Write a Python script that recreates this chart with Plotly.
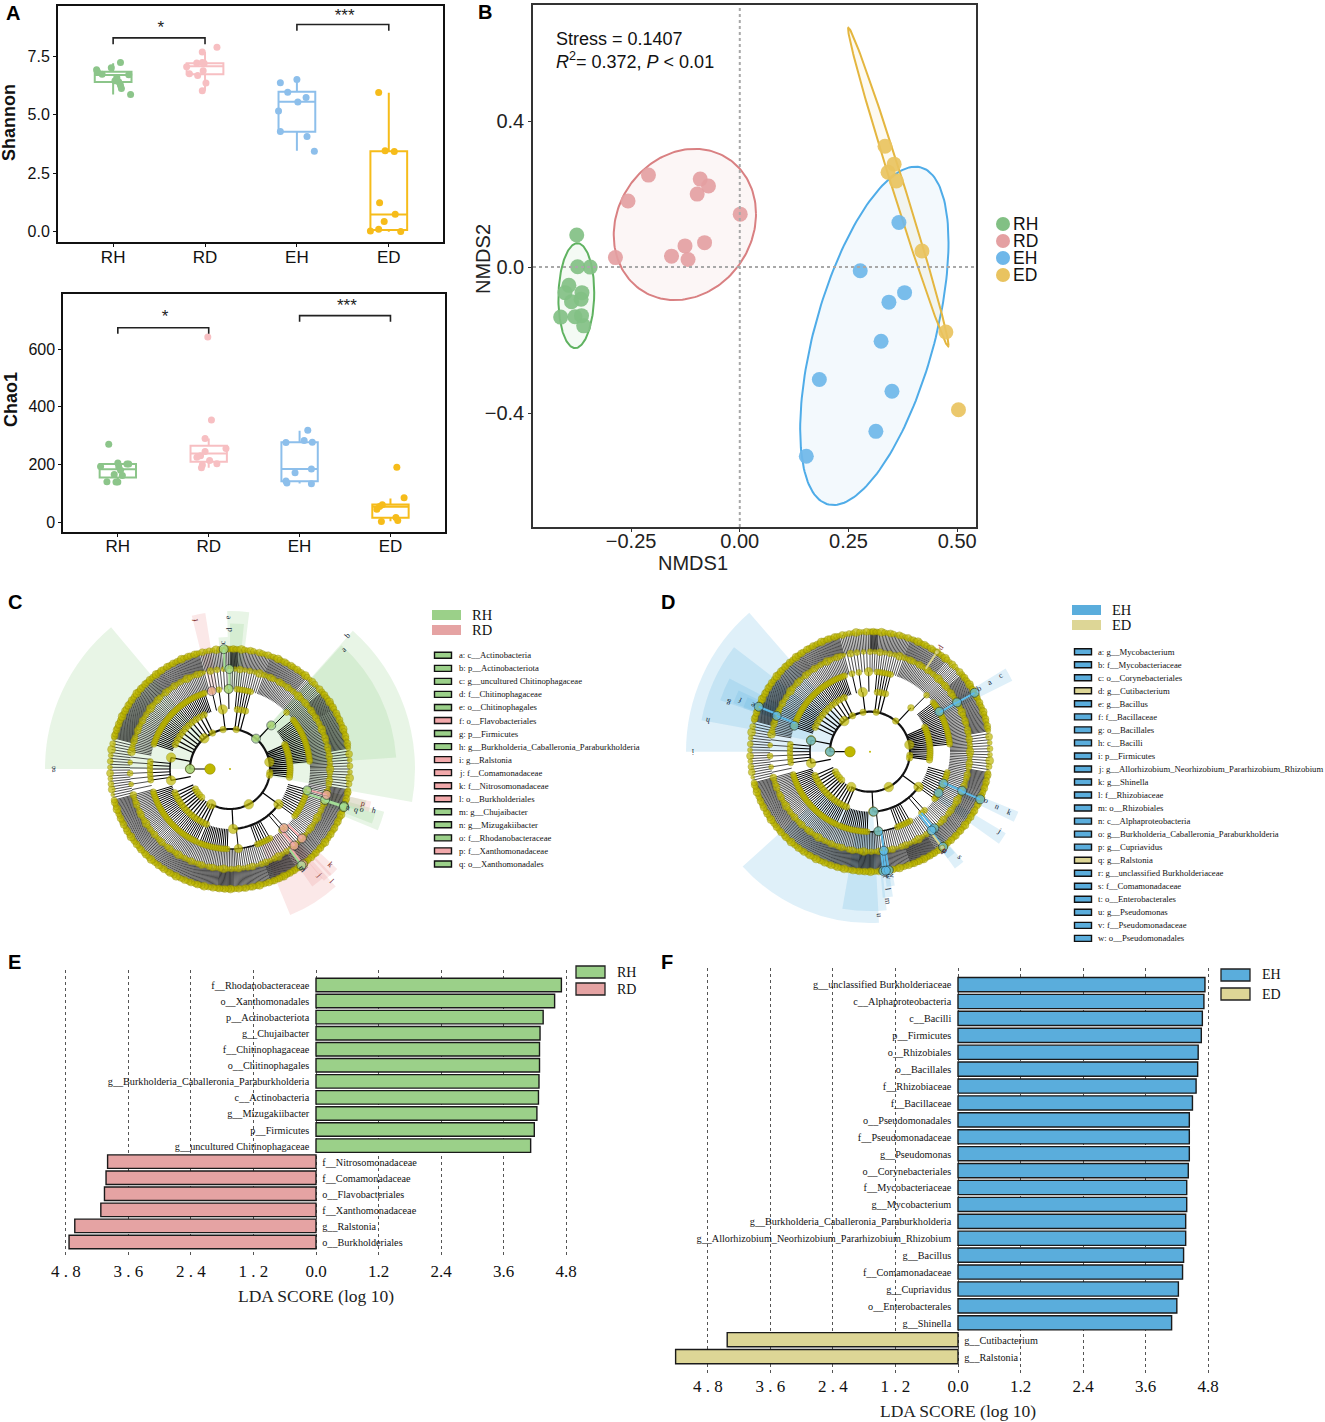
import numpy as np
import plotly.graph_objects as go

W, H = 1325, 1422
SANS = "Liberation Sans"
SERIF = "Liberation Serif"
groups = ["RH", "RD", "EH", "ED"]
box_colors = ["#8CC58A", "#F7BFC2", "#8DBFEB", "#F6BC1A"]

# ---------- Panel A: Shannon ----------
sh_x = [[1.08,.98,.82,.83,.88,1.17,1.04,1.02,1.06,1.08,1.09,1.19],
        [2.13,1.97,1.91,1.97,1.80,1.83,1.98,1.92,2.01,1.97,1.99],
        [2.82,3.00,2.90,3.10,3.01,2.80,2.82,3.11,3.19],
        [3.89,3.96,4.06,3.90,4.07,3.95,3.89,3.80,4.13]]
sh_y = [[7.23,7.00,6.92,6.83,6.73,6.70,6.59,6.45,6.40,6.26,6.12,5.86],
        [7.88,7.68,7.21,7.23,7.04,6.75,6.87,6.67,6.35,6.02,7.19],
        [6.36,6.50,5.96,5.73,5.54,5.15,4.28,4.07,3.44],
        [5.95,3.46,3.43,1.24,0.74,0.44,0.10,0.03,0.01]]
sh_q1 = [6.39, 6.73, 4.27, 0.07]
sh_med = [6.69, 7.07, 5.55, 0.73]
sh_q3 = [6.83, 7.20, 5.98, 3.44]
sh_low = [5.86, 6.02, 3.46, 0.0]
sh_high = [7.20, 7.68, 6.50, 5.93]

# ---------- Panel A: Chao1 ----------
ch_x = [[.90,.81,1.0,1.10,1.12,1.01,1.03,.96,1.05,.88,.98,1.0],
        [1.99,2.03,1.96,2.19,1.96,1.91,1.87,2.01,2.09,1.93,1.92],
        [3.09,3.05,2.85,3.14,3.13,2.95,2.85,2.86,3.13],
        [4.07,4.15,3.91,3.88,3.85,4.06,4.08,3.90]]
ch_y = [[270,193,205,201,201,192,180,165,161,140,139,139],
        [642,354,290,255,245,230,225,213,202,198,188],
        [318,283,276,277,184,171,142,135,133],
        [190,84,60,54,44,16,5,2]]
ch_q1 = [154, 209, 141, 15]
ch_med = [183, 238, 184, 53]
ch_q3 = [201, 265, 277, 61]
ch_low = [140, 188, 134, 3]
ch_high = [209, 290, 317, 82]

# ---------- Panel B: NMDS ----------
nm_colors = ["#82C084", "#E4A0A2", "#6FB7E9", "#E9C35F"]
nm_line = ["#5FB260", "#D98082", "#4FACE8", "#E4B63F"]
nm_x = [[-.375,-.373,-.344,-.393,-.402,-.363,-.365,-.387,-.412,-.379,-.364,-.359],
        [-.210,-.257,-.091,-.072,-.098,.001,-.081,-.126,-.157,-.119,-.286],
        [.366,.277,.379,.343,.325,.183,.350,.313,.153],
        [.334,.355,.341,.360,.419,.474,.503]]
nm_y = [[.088,.001,0,-.050,-.070,-.070,-.088,-.095,-.137,-.136,-.133,-.161],
        [.252,.181,.241,.222,.200,.145,.067,.058,.030,.021,.026],
        [.122,-.010,-.070,-.096,-.203,-.308,-.340,-.450,-.518],
        [.331,.282,.260,.236,.044,-.178,-.391]]
# ellipses: centre, x and y half-extent, correlation
ell_cx = [-.3760, -.1263, .3095, .3646]
ell_cy = [-.0782, .1168, -.1883, .2193]
ell_rx = [.0412, .1636, .1706, .1155]
ell_ry = [.1437, .2071, .4635, .4365]
ell_rho = [.06, .14, .552, -.992]

# ---------- Panels E / F: LDA ----------
e_names = ["f__Rhodanobacteraceae","o__Xanthomonadales","p__Actinobacteriota","g__Chujaibacter",
           "f__Chitinophagaceae","o__Chitinophagales","g__Burkholderia_Caballeronia_Paraburkholderia",
           "c__Actinobacteria","g__Mizugakiibacter","p__Firmicutes","g__uncultured Chitinophagaceae",
           "f__Nitrosomonadaceae","f__Comamonadaceae","o__Flavobacteriales","f__Xanthomonadaceae",
           "g__Ralstonia","o__Burkholderiales"]
e_vals = [4.71,4.58,4.36,4.30,4.29,4.29,4.28,4.27,4.24,4.19,4.12,-4.00,-4.03,-4.06,-4.13,-4.63,-4.74]
f_names = ["g__unclassified Burkholderiaceae","c__Alphaproteobacteria","c__Bacilli","p__Firmicutes",
           "o__Rhizobiales","o__Bacillales","f__Rhizobiaceae","f__Bacillaceae","o__Pseudomonadales",
           "f__Pseudomonadaceae","g__Pseudomonas","o__Corynebacteriales","f__Mycobacteriaceae",
           "g__Mycobacterium","g__Burkholderia_Caballeronia_Paraburkholderia",
           "g__Allorhizobium_Neorhizobium_Pararhizobium_Rhizobium","g__Bacillus","f__Comamonadaceae",
           "g__Cupriavidus","o__Enterobacterales","g__Shinella","g__Cutibacterium","g__Ralstonia"]
f_vals = [4.74,4.72,4.69,4.67,4.61,4.60,4.57,4.50,4.44,4.44,4.44,4.42,4.39,4.39,4.37,4.37,4.33,4.31,
          4.23,4.20,4.10,-4.43,-5.42]
lda_ticks = [-4.8,-3.6,-2.4,-1.2,0,1.2,2.4,3.6,4.8]
lda_ticktext = ["4 . 8","3 . 6","2 . 4","1 . 2","0.0","1.2","2.4","3.6","4.8"]

# ---------- Panels C / D: cladograms (compass degrees, ring level 1..6) ----------
ring6_runs = [(0,4,10),(4,20,22),(20,40,34),(40,50,12),(50,60,20),(60,80,34),(80,100,14),(100,110,18),
              (110,130,34),(130,146,30),(146,160,34),(160,168,14),(168,178,18),(178,186,18),(186,200,26),
              (200,220,36),(220,240,36),(240,255,26),(255,268,10),(268,285,12),(285,305,40),(305,325,40),
              (325,345,36),(345,360,18)]
ring5_runs = [(0,20,14),(20,45,26),(45,90,50),(90,110,18),(110,135,22),(135,175,30),(175,205,28),
              (205,255,50),(255,280,8),(280,345,62),(345,360,8)]
ring4_runs = [(262,278,6),(288,343,38),(347,347,1),(352,352,1),(359,359,1),(5,17,6),(45,45,1),
              (52,86,24),(105,128,12),(137,137,1),(140,140,1),(150,162,6),(174,174,1),
              (182,204,14),(205,255,32)]
ring3_runs = [(259,259,1),(281,281,1),(294,339,10),(353,353,1),(7,19,3),(43,43,1),(66,100,16),
              (126,126,1),(177,177,1),(203,250,14)]
ring2_theta = [270,320,334,350,9,40,80,95,99,152,208,240,235,230,225]
big_ring3 = [259,281,353,126,177]
big_ring4 = [359,174]
dot_sizes = [6,5,7,5,6,5,8,6,5,7,6,4,7]
arc_r = [2,3,3,4]
arc_start = [-90,259,126,150]
arc_stop = [208,281,177,205]
arc_w = [2.2,1.6,2.2,1.6]

RH_c = "#A3DD96"; RD_c = "#F2A9AB"; EH_c = "#5DBBEA"; ED_c = "#DDD68F"
c_node_r = [3,2,6,5,4,4,2,6,6,5,5,4,6,6,5,5,4]
c_node_t = [43.4,40.6,357,359.6,359,346.8,270,108,142.6,140,134,137.6,143.5,108.5,108,105,105.5]
c_node_g = ["RH","RH","RH","RH","RH","RD","RH","RH","RD","RD","RD","RD","RH","RH","RH","RD","RH"]
c_wedge_lo = [2,2,3,4,5,6,4,6,5,4,5,6,5,5,4]
c_wedge_hi = [9.25,9.25,8.33,7.9,7.28,6.6,7.9,8,7.6,7.9,7.17,7.33,7.3,7.25,7]
c_wedge_a = [270,41.6,42,346,0,355,359,105.5,107,138,139.7,133,136,103,103]
c_wedge_b = [320,100.3,86,351,5.5,359,367,112.5,111,157.6,145,137,140,107,108]
c_wedge_g = ["RH","RH","RH","RD","RH","RH","RH","RH","RH","RD","RD","RD","RD","RD","RH"]
c_lab = list("abcdefghijklmnopq")
c_lab_r = [8.25,8.9,6.33,6.95,7.6,7.65,8.83,7.5,6.3,6.9,6.93,7.6,6.2,6.2,6.9,6.88,6.6]
c_lab_t = [43.6,41.2,356.7,359.5,359,347,269.5,105.9,143,139.6,133.8,138,144,108,107,104.4,108]

d_node_r = [6,5,4,6,6,5,4,3,2,6,6,5,4,4,5,6,6,5,4,3,6,6,5]
d_node_t = [60.6,60.5,60,33.9,292,291,289,280.7,270,113.4,142.5,140,113.5,121,113,143,173.6,172,174,176.5,171,172.4,142]
d_node_g = ["EH","EH","EH","ED","EH","EH","EH","EH","EH","EH","EH","EH","EH","EH","EH","ED","EH","EH","EH","EH","EH","EH","EH"]
d_wedge_lo = [2,3,4,5,6,3,4,5,6,4,4,4,5,6]
d_wedge_hi = [9.2,8.57,7.92,7.25,6.7,8.57,7.97,7.33,6.8,7.95,8,7.92,7.22,6.6]
d_wedge_a = [270,280.6,289,289.5,289,177,174,171,169.5,58.5,112,121,139.7,140]
d_wedge_b = [319,307.5,297.5,295,294,228,190,175,173,63.5,116,125.5,144,144]
d_lab = list("abcdefghijklmnopqrstuvw")
d_lab_r = [6.9,6.3,7.55,6.3,6.33,7.0,7.5,8.25,8.9,7.56,7.6,6.93,7.55,6.93,6.3,6.2,6.2,6.25,6.9,6.3,8.2,6.3,6.3]
d_lab_t = [60.1,60,59.9,33.9,291.8,291.6,289,280.7,270,121.2,113.5,172.4,173.3,113.4,113,143,142.5,144,139.7,173,176.7,170,171.5]

c_leg_names = ["a: c__Actinobacteria","b: p__Actinobacteriota","c: g__uncultured Chitinophagaceae",
               "d: f__Chitinophagaceae","e: o__Chitinophagales","f: o__Flavobacteriales","g: p__Firmicutes",
               "h: g__Burkholderia_Caballeronia_Paraburkholderia","i: g__Ralstonia","j: f__Comamonadaceae",
               "k: f__Nitrosomonadaceae","l: o__Burkholderiales","m: g__Chujaibacter","n: g__Mizugakiibacter",
               "o: f__Rhodanobacteraceae","p: f__Xanthomonadaceae","q: o__Xanthomonadales"]
c_leg_g = ["RH","RH","RH","RH","RH","RD","RH","RH","RD","RD","RD","RD","RH","RH","RH","RD","RH"]
d_leg_names = ["a: g__Mycobacterium","b: f__Mycobacteriaceae","c: o__Corynebacteriales","d: g__Cutibacterium",
               "e: g__Bacillus","f: f__Bacillaceae","g: o__Bacillales","h: c__Bacilli","i: p__Firmicutes",
               "j: g__Allorhizobium_Neorhizobium_Pararhizobium_Rhizobium","k: g__Shinella","l: f__Rhizobiaceae",
               "m: o__Rhizobiales","n: c__Alphaproteobacteria","o: g__Burkholderia_Caballeronia_Paraburkholderia",
               "p: g__Cupriavidus","q: g__Ralstonia","r: g__unclassified Burkholderiaceae","s: f__Comamonadaceae",
               "t: o__Enterobacterales","u: g__Pseudomonas","v: f__Pseudomonadaceae","w: o__Pseudomonadales"]
d_leg_g = ["EH","EH","EH","ED"]+["EH"]*12+["ED"]+["EH"]*6

# ---------- helpers ----------
def dx(l, r): return [l/W, r/W]
def dy(t, b): return [1-b/H, 1-t/H]
def px(x): return x/W
def py(y): return 1-y/H

fig = go.Figure()
shapes = []
annos = []
def text(x, y, s, size, font=SANS, color="#111", anchor="left", **kw):
    if anchor == "left":
        x -= 2
    annos.append(dict(x=px(x), y=py(y), xref="paper", yref="paper", text=s, showarrow=False,
                      xanchor=anchor, yanchor="middle", font=dict(family=font, size=size, color=color), **kw))
def rect(x0, y0, x1, y1, fill, line=None, lw=0):
    shapes.append(dict(type="rect", xref="paper", yref="paper", x0=px(x0), x1=px(x1), y0=py(y0), y1=py(y1),
                       fillcolor=fill, line=dict(color=line or fill, width=lw), layer="above"))

# ---------- alpha boxes ----------
def alpha(xa, ya, q1, med, q3, low, high, px_, py_, br1, br2, star_y):
    for i, g in enumerate(groups):
        fig.add_trace(go.Box(x=[i+1], q1=[q1[i]], median=[med[i]], q3=[q3[i]], lowerfence=[low[i]],
                             upperfence=[high[i]], width=0.4, whiskerwidth=0, fillcolor="rgba(0,0,0,0)",
                             line=dict(color=box_colors[i], width=2), boxpoints=False, xaxis=xa, yaxis=ya,
                             showlegend=False, name=g))
        fig.add_trace(go.Scatter(x=px_[i], y=py_[i], mode="markers", xaxis=xa, yaxis=ya, showlegend=False,
                                 marker=dict(color=box_colors[i], size=7), name=g))
    for (a, b, lo, hi), sy, st in zip([br1, br2], star_y, ["*", "***"]):
        fig.add_trace(go.Scatter(x=[a, a, b, b], y=[lo, hi, hi, lo], mode="lines", xaxis=xa, yaxis=ya,
                                 showlegend=False, line=dict(color="#222", width=1.6)))
        fig.add_trace(go.Scatter(x=[(a+b)/2+.02], y=[sy], mode="text", text=[st], xaxis=xa, yaxis=ya,
                                 showlegend=False, textfont=dict(family=SANS, size=17, color="#222")))

alpha("x", "y", sh_q1, sh_med, sh_q3, sh_low, sh_high, sh_x, sh_y, (1, 2, 8.01, 8.28), (3, 4, 8.58, 8.85), (8.65, 9.2))
alpha("x2", "y2", ch_q1, ch_med, ch_q3, ch_low, ch_high, ch_x, ch_y, (1, 2, 653, 674), (3, 4, 695, 716), (710, 748))

axis_line = dict(showline=True, mirror=True, linecolor="#111", linewidth=2, ticks="outside", ticklen=3,
                 tickcolor="#111", showgrid=False, zeroline=False)
layout = dict(
    xaxis=dict(domain=dx(58, 443), range=[0.40, 4.59], tickvals=[1,2,3,4], ticktext=groups, anchor="y",
               ticklabelstandoff=-4, tickfont=dict(family=SANS, size=17, color="#111"), **axis_line),
    yaxis=dict(domain=dy(6, 242), range=[-0.44, 9.64], tickvals=[0,2.5,5,7.5], ticktext=["0.0","2.5","5.0","7.5"],
               anchor="x", tickfont=dict(family=SANS, size=16, color="#111"), **axis_line),
    xaxis2=dict(domain=dx(63.3, 445), range=[0.40, 4.60], tickvals=[1,2,3,4], ticktext=groups, anchor="y2",
                ticklabelstandoff=-5, tickfont=dict(family=SANS, size=17, color="#111"), **axis_line),
    yaxis2=dict(domain=dy(294.3, 531.7), range=[-33.6, 790], tickvals=[0,200,400,600], anchor="x2",
                tickfont=dict(family=SANS, size=16, color="#111"), **axis_line),
)
text(9, 123, "<b>Shannon</b>", 18, SANS, "#111", "center", textangle=-90)
text(11, 400, "<b>Chao1</b>", 18, SANS, "#111", "center", textangle=-90)

# ---------- NMDS ----------
def rgba(h, a):
    return f"rgba({int(h[1:3],16)},{int(h[3:5],16)},{int(h[5:7],16)},{a})"

t_ell = np.linspace(0, 2*np.pi, 181)
for i, g in enumerate(groups):
    ex = ell_cx[i]+ell_rx[i]*np.cos(t_ell)
    ey = ell_cy[i]+ell_ry[i]*(ell_rho[i]*np.cos(t_ell)+np.sqrt(1-ell_rho[i]**2)*np.sin(t_ell))
    fig.add_trace(go.Scatter(x=ex, y=ey, mode="lines", fill="toself", xaxis="x3", yaxis="y3",
                             fillcolor=rgba(nm_line[i], 0.07), line=dict(color=nm_line[i], width=2),
                             showlegend=False, name=g))
for i, g in enumerate(groups):
    fig.add_trace(go.Scatter(x=nm_x[i], y=nm_y[i], mode="markers", xaxis="x3", yaxis="y3", showlegend=False,
                             marker=dict(color=rgba(nm_colors[i], 0.92), size=15), name=g))
for kw in [dict(x0=0, x1=0, y0=0, y1=1, xref="x3", yref="y3 domain"),
           dict(x0=0, x1=1, y0=0, y1=0, xref="x3 domain", yref="y3")]:
    shapes.append(dict(type="line", line=dict(color="#A8A8A8", width=2, dash="3px,3px"), layer="above", **kw))
b_axis = dict(showline=True, mirror=True, linecolor="#333", linewidth=1.6, ticks="outside", ticklen=3,
              tickcolor="#333", showgrid=False, zeroline=False)
layout["xaxis3"] = dict(domain=dx(533, 976), range=[-0.4756, 0.5433], tickvals=[-.25,0,.25,.5],
                        ticktext=["\u22120.25","0.00","0.25","0.50"], anchor="y3", ticklabelstandoff=-8,
                        tickfont=dict(family=SANS, size=20, color="#222"), **b_axis)
layout["yaxis3"] = dict(domain=dy(5, 527), range=[-0.712, 0.718], tickvals=[-.4,0,.4],
                        ticktext=["\u22120.4","0.0","0.4"], anchor="x3",
                        tickfont=dict(family=SANS, size=20, color="#222"), **b_axis)
text(693, 563, "NMDS1", 20, SANS, "#222", "center")
text(483, 259, "NMDS2", 20, SANS, "#222", "center", textangle=-90)
text(556, 39, "Stress = 0.1407", 18)
text(556, 60, "<i>R</i><sup>2</sup>= 0.372, <i>P</i> < 0.01", 18)
for i, g in enumerate(groups):
    yy = 224+17*i
    shapes.append(dict(type="circle", xref="paper", yref="paper", x0=px(996), x1=px(1010), y0=py(yy+7), y1=py(yy-7),
                       fillcolor=nm_colors[i], line=dict(width=0)))
    text(1013, yy, g, 17.5)

# ---------- LDA ----------
cols = {"RH":"#9BD089","RD":"#E5A3A3","EH":"#5AADDC","ED":"#DDD696"}
def lda(xa, ya, names, vals, pos_g, neg_g, lab_off):
    v = np.array(vals); idx = np.arange(len(v))
    for mask, g in [(v > 0, pos_g), (v < 0, neg_g)]:
        fig.add_trace(go.Bar(x=v[mask], y=idx[mask], orientation="h", xaxis=xa, yaxis=ya, width=0.84,
                             marker=dict(color=cols[g], line=dict(color="#1A1A1A", width=1.4)),
                             showlegend=False, name=g))
    nm = np.array(names)
    fig.add_trace(go.Scatter(x=[-0.13]*int((v>0).sum()), y=idx[v>0]+lab_off, text=nm[v>0], mode="text", xaxis=xa, yaxis=ya,
                             textposition="middle left", showlegend=False,
                             textfont=dict(family=SERIF, size=10.2, color="#111")))
    fig.add_trace(go.Scatter(x=[0.12]*int((v<0).sum()), y=idx[v<0]+lab_off, text=nm[v<0], mode="text", xaxis=xa, yaxis=ya,
                             textposition="middle right", showlegend=False,
                             textfont=dict(family=SERIF, size=10.2, color="#111")))
lda("x4", "y4", e_names, e_vals, "RH", "RD", 0.09)
lda("x5", "y5", f_names, f_vals, "EH", "ED", 0.08)
lda_axis = dict(showgrid=True, griddash="dot", gridcolor="#555", gridwidth=1, zeroline=False, showline=False,
                tickvals=lda_ticks, ticktext=lda_ticktext, ticks="outside", ticklen=2, tickcolor="rgba(0,0,0,0)",
                tickfont=dict(family=SERIF, size=17, color="#111"))
ux = 52.1
layout["xaxis4"] = dict(domain=dx(50, 582), range=[-266/ux, 266/ux], anchor="y4", ticklabelstandoff=-4,
                        title=dict(text="LDA SCORE (log 10)", font=dict(family=SERIF, size=17.5, color="#222"), standoff=9), **lda_axis)
layout["yaxis4"] = dict(domain=dy(970, 1258), range=[(1258-985)/16.06, (970-985)/16.06], anchor="x4", visible=False)
layout["xaxis5"] = dict(domain=dx(660, 1256), range=[-298/ux, 298/ux], anchor="y5", ticklabelstandoff=-6,
                        title=dict(text="LDA SCORE (log 10)", font=dict(family=SERIF, size=17.5, color="#222"), standoff=9), **lda_axis)
layout["yaxis5"] = dict(domain=dy(968, 1375), range=[(1375-984.6)/16.91, (968-984.6)/16.91], anchor="x5", visible=False)
for (x0, y0, lab, g) in [(576,966,"RH","RH"),(576,983,"RD","RD"),(1221,969,"EH","EH"),(1221,988,"ED","ED")]:
    rect(x0, y0, x0+29, y0+12, cols[g], "#222", 1.3)
    text(x0+41, y0+6, lab, 14, SERIF)

# ---------- cladograms ----------
OLIVE = "#BFB800"; OLIVE_L = "#8A8500"
ccols = {"RH":RH_c,"RD":RD_c,"EH":EH_c,"ED":ED_c}
wcols = {"RH":"rgba(140,205,130,0.2)","RD":"rgba(235,140,140,0.2)","EH":"rgba(95,180,225,0.2)","ED":"rgba(221,214,143,0.3)"}
def run_thetas(runs):
    out = []
    for a, b, n in runs:
        out.extend(np.linspace(a, b, n, endpoint=False) if n > 1 else [a])
    return np.array(out, dtype=float)
t6, t5, t4, t3 = map(run_thetas, [ring6_runs, ring5_runs, ring4_runs, ring3_runs])
t2 = np.array(ring2_theta, dtype=float)

def clado(name, w_lo, w_hi, w_a, w_b, w_g, n_r, n_t, n_g):
    for lo, hi, a, b, g in zip(w_lo, w_hi, w_a, w_b, w_g):
        fig.add_trace(go.Barpolar(r=[hi-lo], base=[lo], theta=[(a+b)/2], width=[b-a], subplot=name, showlegend=False,
                                  marker=dict(color=wcols[g], line=dict(width=0))))
    for ts, r0, r1, lw, colr in [(t6,5,6,.7,"#000"),(t5,4,5,.7,"#000"),(t4,3,4,1,"#000"),(t3,2,3,1.2,"#000"),(np.array([270.]),1,2,1.2,"#000")]:
        rr, tt = [], []
        for t in ts:
            rr += [r0, r1, None]; tt += [t, t, None]
        fig.add_trace(go.Scatterpolar(r=rr, theta=tt, mode="lines", subplot=name, showlegend=False,
                                      line=dict(color=colr, width=lw)))
    for r, a, b, lw in zip(arc_r, arc_start, arc_stop, arc_w):
        th = np.arange(a, b+1, 2.0)
        fig.add_trace(go.Scatterpolar(r=[r]*len(th), theta=th, mode="lines", subplot=name, showlegend=False,
                                      line=dict(color="#111", width=lw)))
    def sizes(ts, big, s, b):
        return [b if any(abs(t-x) < .01 for x in big) else s for t in ts]
    def cycle(n):
        return [dot_sizes[i % len(dot_sizes)] for i in range(n)]
    d6, d5, d4 = t6[::2], t5[::2], t4
    for ts, r, sz in [(d6,6,cycle(len(d6))),(d5,5,cycle(len(d5))),(d4,4,sizes(d4,big_ring4,6,8.5)),
                      (t3,3,sizes(t3,big_ring3,6.5,9.5)),(t2,2,sizes(t2,[270,80,152,208,320],6.5,9.5))]:
        fig.add_trace(go.Scatterpolar(r=[r]*len(ts), theta=ts, mode="markers", subplot=name, showlegend=False,
                                      marker=dict(color=OLIVE, size=sz, line=dict(color=OLIVE_L, width=.5))))
    fig.add_trace(go.Scatterpolar(r=[1], theta=[270], mode="markers", subplot=name, showlegend=False,
                                  marker=dict(color=OLIVE, size=10.5, line=dict(color=OLIVE_L, width=.5))))
    fig.add_trace(go.Scatterpolar(r=[0], theta=[0], mode="markers", subplot=name, showlegend=False,
                                  marker=dict(color=OLIVE, size=2)))
    for r, t, g in zip(n_r, n_t, n_g):
        if r >= 5:
            fig.add_trace(go.Scatterpolar(r=[r-1, r], theta=[t, t], mode="lines", subplot=name, showlegend=False,
                                          line=dict(color=ccols[g], width=2)))
    fig.add_trace(go.Scatterpolar(r=n_r, theta=n_t, mode="markers", subplot=name, showlegend=False,
                                  marker=dict(color=[ccols[g] for g in n_g],
                                              size=[5 if g == "ED" else 9 for g in n_g],
                                              line=dict(color=[OLIVE_L if g == "ED" else "#1A2A22" for g in n_g], width=.8))))

clado("polar", c_wedge_lo, c_wedge_hi, c_wedge_a, c_wedge_b, c_wedge_g, c_node_r, c_node_t, c_node_g)
clado("polar2", d_wedge_lo, d_wedge_hi, d_wedge_a, d_wedge_b, [ "EH"]*14, d_node_r, d_node_t, d_node_g)
pol = dict(bgcolor="rgba(0,0,0,0)", radialaxis=dict(visible=False, range=[0, 10]),
           angularaxis=dict(visible=False, direction="clockwise", rotation=90))
layout["polar"] = dict(domain=dict(x=dx(30, 430), y=dy(569, 969)), **pol)
layout["polar2"] = dict(domain=dict(x=dx(670, 1070), y=dy(551.7, 951.7)), **pol)

def clado_labels(cx, cy, labs, rs, ts, gs):
    for l, r, t, g in zip(labs, rs, ts, gs):
        a = np.radians(t)
        text(cx+20*r*np.sin(a), cy-20*r*np.cos(a), l, 8, SERIF, "#7a1f22" if g in ("RD", "ED") else "#123",
             "center", textangle=t-90)
clado_labels(230, 769, c_lab, c_lab_r, c_lab_t, c_leg_g)
clado_labels(870, 751.7, d_lab, d_lab_r, d_lab_t, d_leg_g)

def clado_legend(x_rect, x_text, y0, step, names, gs, g_rect, g_items):
    for i, (n, g) in enumerate(zip(names, gs)):
        y = y0+step*i
        rect(x_rect, y-3, x_rect+17, y+3, cols[g] if g != "RD" else "#F2A9AB", "#111", 1.4)
        text(x_text, y, n, 8.7, SERIF)
    for (y, lab, g) in g_items:
        rect(g_rect, y-5, g_rect+29, y+5, cols[g])
        text(g_rect+40, y, lab, 14.5, SERIF)
clado_legend(434.5, 459, 655.3, 13.04, c_leg_names, c_leg_g, 432, [(615,"RH","RH"),(630,"RD","RD")])
clado_legend(1074.5, 1098, 651.7, 13.03, d_leg_names, d_leg_g, 1072, [(610,"EH","EH"),(625,"ED","ED")])

# ---------- panel letters ----------
for lab, x, y in [("A",6,13),("B",478,12),("C",8,602),("D",661,602),("E",8,962),("F",661,962)]:
    text(x, y, f"<b>{lab}</b>", 20, SANS, "#000")

fig.update_layout(width=W, height=H, margin=dict(l=0, r=0, t=0, b=0), paper_bgcolor="white", plot_bgcolor="white",
                  shapes=shapes, annotations=annos, showlegend=False, barmode="overlay", **layout)
fig.write_html("out.html", config=dict(displayModeBar=False), post_script="document.body.style.margin='0';")
